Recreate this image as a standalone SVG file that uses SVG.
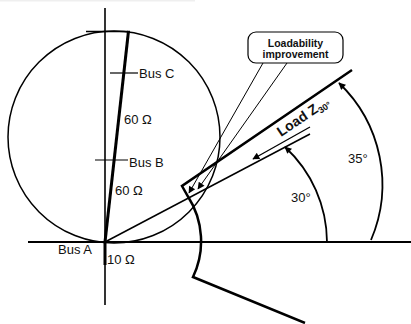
<svg xmlns="http://www.w3.org/2000/svg" width="411" height="324" viewBox="0 0 411 324">
<style>
.ln{fill:none;stroke:#000;stroke-linecap:butt}
.t{font-family:"Liberation Sans",Arial,sans-serif;font-size:13px;fill:#111}
.b{font-family:"Liberation Sans",Arial,sans-serif;font-weight:bold;fill:#111}
</style>
<defs>
<marker id="ah" viewBox="0 0 10 10" refX="9" refY="5" markerWidth="9" markerHeight="7" orient="auto-start-reverse" markerUnits="userSpaceOnUse">
<path d="M0,0 L10,5 L0,10 z" fill="#000"/>
</marker>
</defs>
<rect x="0" y="0" width="195" height="1.5" fill="#efefef"/>
<g id="axes">
<line class="ln" x1="105" y1="8" x2="105" y2="305" stroke-width="1.6"/>
<line class="ln" x1="28" y1="242" x2="411" y2="242" stroke-width="2"/>
</g>
<g id="mho-circle">
<circle class="ln" cx="114" cy="137" r="106" stroke-width="1.5"/>
<line class="ln" x1="86" y1="31.5" x2="130" y2="31.5" stroke-width="1.5"/>
</g>
<g id="line-impedance">
<line class="ln" x1="105" y1="242" x2="128.5" y2="31" stroke-width="3"/>
<line class="ln" x1="105" y1="242" x2="105" y2="265" stroke-width="3"/>
</g>
<g id="bus-c">
<line class="ln" x1="110" y1="73" x2="138" y2="73" stroke-width="1.2"/>
<text class="t" x="139" y="78">Bus C</text>
</g>
<g id="bus-b">
<line class="ln" x1="95" y1="160" x2="128" y2="160" stroke-width="1.2"/>
<text class="t" x="129" y="167">Bus B</text>
</g>
<g id="bus-a">
<text class="t" x="58" y="254">Bus A</text>
</g>
<g id="impedance-labels">
<text class="t" x="124" y="124">60 Ω</text>
<text class="t" x="115" y="195">60 Ω</text>
<text class="t" x="107" y="264">10 Ω</text>
</g>
<g id="load-characteristic">
<path class="ln" d="M352,70 L182,186 L188,196.5 A83,83 0 0 1 193,277 L305,323" stroke-width="2.5" stroke-linejoin="miter"/>
</g>
<g id="load-z">
<text class="b" font-size="14" transform="translate(281,137) rotate(-34)">Load Z<tspan font-size="9" dy="3">30°</tspan></text>
</g>
<g id="callout">
<rect x="248" y="32" width="95" height="31" rx="8" fill="#fff" stroke="#000" stroke-width="1.2"/>
<text class="b" font-size="10.5" x="295.5" y="47" text-anchor="middle">Loadability</text>
<text class="b" font-size="10.5" x="295.5" y="58" text-anchor="middle">improvement</text>
</g>
<g id="connectors">
<line class="ln" x1="105" y1="242" x2="310" y2="134" stroke-width="1.5"/>
<line class="ln" x1="310" y1="127" x2="253" y2="159" stroke-width="1.3" marker-end="url(#ah)"/>
<line class="ln" x1="263" y1="63" x2="189" y2="193" stroke-width="1" marker-end="url(#ah)"/>
<line class="ln" x1="287" y1="63" x2="198" y2="189" stroke-width="1" marker-end="url(#ah)"/>
<path class="ln" d="M285,147 A130,130 0 0 1 327,242" stroke-width="1.8" marker-start="url(#ah)"/>
<path class="ln" d="M339,83 A140.6,140.6 0 0 1 371,240" stroke-width="1.8" marker-start="url(#ah)"/>
</g>
<g id="angle-labels">
<text class="t" x="291" y="202">30°</text>
<text class="t" x="348" y="163">35°</text>
</g>
</svg>
